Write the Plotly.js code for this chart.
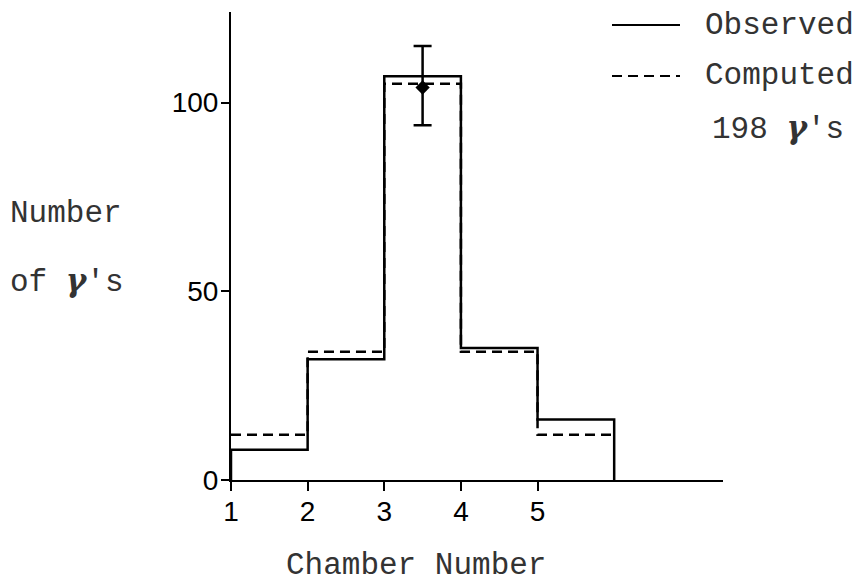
<!DOCTYPE html>
<html>
<head>
<meta charset="utf-8">
<script src="https://cdn.plot.ly/plotly-3.0.1.min.js"></script>
<style>html,body{margin:0;padding:0;background:#fff;}#chart{width:864px;height:582px;}</style>
</head>
<body>
<div id="chart"></div>
<script>
// Data
const binEdges = [1, 2, 3, 4, 5, 6];
const observed = [8, 32, 107, 35, 16];
const computed = [12, 34, 105, 34, 12];
const errX = [3.5];
const errY = [104];
const errPlus = [11];
const errMinus = [10];
const xTicks = [1, 2, 3, 4, 5];
const xTickText = ['1', '2', '3', '4', '5'];
const yTicks = [0, 50, 100];
const yTickText = ['0', '50', '100'];

// step outlines built from bin edges
const obsX = [binEdges[0]].concat(binEdges).concat([binEdges[binEdges.length - 1]]);
const obsY = [0].concat(observed).concat([observed[observed.length - 1], 0]);
const compX = binEdges.slice();
const compY = computed.concat([computed[computed.length - 1]]);

const L = 231, R = 723, T = 12, B = 480;
const W = 864, H = 582;
const px = v => (v - L) / (R - L);
const py = v => (B - v) / (B - T);

const mono = 'Liberation Mono, DejaVu Sans Mono, monospace';
const sans = 'Liberation Sans, DejaVu Sans, Arial, sans-serif';
const txtCol = '#333';
const gam = '<span style="font-family:DejaVu Serif;font-style:italic;font-weight:bold">γ</span>';

const traces = [
  {x: compX, y: compY, mode: 'lines', line: {shape: 'hv', color: '#000', width: 2.5, dash: '10px,6px'}, showlegend: false, hoverinfo: 'skip'},
  {x: obsX, y: obsY, mode: 'lines', line: {shape: 'hv', color: '#000', width: 2.5}, showlegend: false, hoverinfo: 'skip'},
  {x: errX, y: errY, mode: 'markers', marker: {symbol: 'diamond', size: 11, color: '#000'},
   error_y: {type: 'data', symmetric: false, array: errPlus, arrayminus: errMinus, color: '#000', thickness: 2.5, width: 9},
   showlegend: false, hoverinfo: 'skip'}
];

const layout = {
  width: W, height: H,
  margin: {l: L, r: W - R, t: T, b: H - B},
  paper_bgcolor: '#fff', plot_bgcolor: '#fff',
  showlegend: false,
  xaxis: {
    range: [1, 7.42], showgrid: false, zeroline: false, showline: true, linecolor: '#000', linewidth: 2,
    tickmode: 'array', tickvals: xTicks, ticktext: xTickText, ticks: 'outside', ticklen: 9, tickwidth: 2, tickcolor: '#000',
    ticklabelstandoff: -4,
    tickfont: {family: sans, size: 28, color: '#000'}
  },
  yaxis: {
    range: [0, 124], showgrid: false, zeroline: false, showline: true, linecolor: '#000', linewidth: 2,
    tickmode: 'array', tickvals: yTicks, ticktext: yTickText, ticks: 'outside', ticklen: 8, tickwidth: 2, tickcolor: '#000',
    ticklabelstandoff: -3,
    tickfont: {family: sans, size: 28, color: '#000'}
  },
  shapes: [
    {type: 'line', xref: 'paper', yref: 'paper', x0: px(612), x1: px(680), y0: py(25), y1: py(25), line: {color: '#000', width: 2}},
    {type: 'line', xref: 'paper', yref: 'paper', x0: px(612), x1: px(680), y0: py(76), y1: py(76), line: {color: '#000', width: 2, dash: '10px,6px'}}
  ],
  annotations: [
    {xref: 'paper', yref: 'paper', x: px(703), y: py(25), xanchor: 'left', yanchor: 'middle', text: 'Observed', showarrow: false, font: {family: mono, size: 31, color: txtCol}},
    {xref: 'paper', yref: 'paper', x: px(703), y: py(76), xanchor: 'left', yanchor: 'middle', text: 'Computed', showarrow: false, font: {family: mono, size: 31, color: txtCol}},
    {xref: 'paper', yref: 'paper', x: px(710), y: py(128), xanchor: 'left', yanchor: 'middle', text: '198 ' + gam + '\'s', showarrow: false, font: {family: mono, size: 31, color: txtCol}},
    {xref: 'paper', yref: 'paper', x: px(8), y: py(213), xanchor: 'left', yanchor: 'middle', text: 'Number', showarrow: false, font: {family: mono, size: 31, color: txtCol}},
    {xref: 'paper', yref: 'paper', x: px(8), y: py(281), xanchor: 'left', yanchor: 'middle', text: 'of ' + gam + '\'s', showarrow: false, font: {family: mono, size: 31, color: txtCol}},
    {xref: 'paper', yref: 'paper', x: px(416), y: py(565), xanchor: 'center', yanchor: 'middle', text: 'Chamber Number', showarrow: false, font: {family: mono, size: 31, color: txtCol}}
  ]
};

Plotly.newPlot('chart', traces, layout, {displayModeBar: false, staticPlot: true});
</script>
</body>
</html>
